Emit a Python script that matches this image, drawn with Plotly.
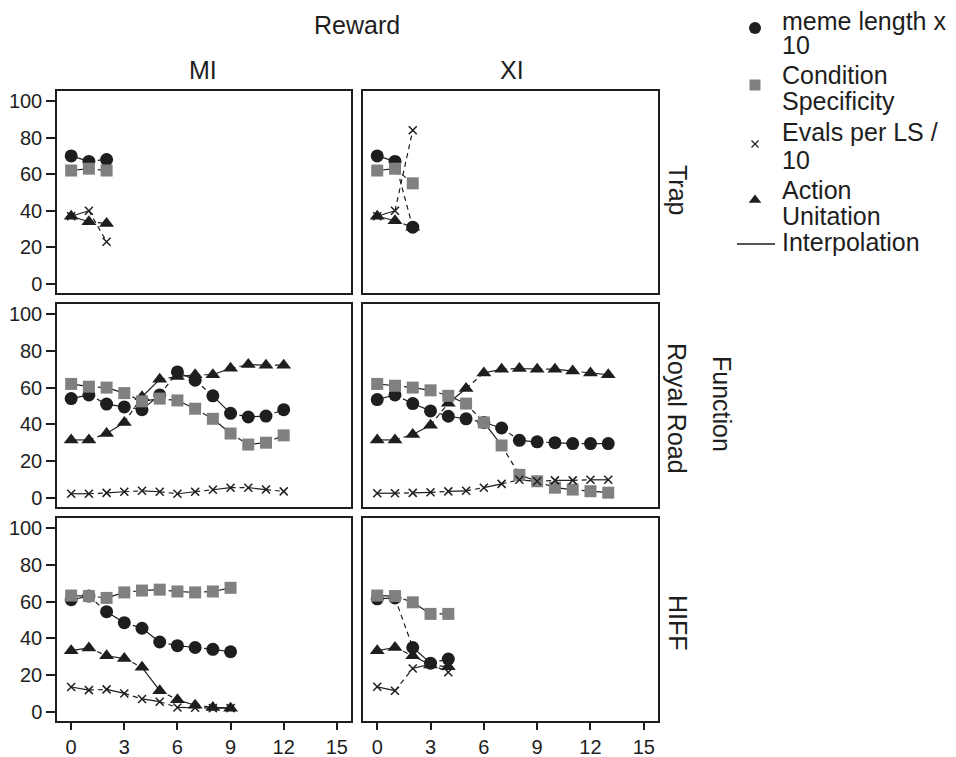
import plotly.graph_objects as go

# ---------------- data ----------------
gens_trap = [0, 1, 2]
gens_rr_ml = list(range(13))
gens_rr_xl = list(range(14))
gens_hiff_ml = list(range(10))
gens_hiff_xl = list(range(5))

# Trap / MI
trap_ml_meme = [70, 67, 68]
trap_ml_cond = [62, 63, 62]
trap_ml_evals = [37, 40, 23]
trap_ml_action = [37, 34, 33]
# Trap / XI
trap_xl_meme = [70, 67, 31]
trap_xl_cond = [62, 63, 55]
trap_xl_evals = [37, 40, 84]
trap_xl_action = [37, 34.5, 31]

# Royal Road / MI
rr_ml_meme = [54, 56, 51, 49.5, 48, 56, 68.5, 64, 55.5, 46, 44, 44.5, 48]
rr_ml_cond = [62, 60.5, 60, 57, 52.5, 54, 53, 48.5, 43, 35, 29, 30, 34]
rr_ml_evals = [2.2, 2.2, 2.7, 3.3, 3.8, 3.3, 2.2, 3.3, 4.4, 5.5, 5.5, 4.5, 3.5]
rr_ml_action = [31.5, 31.5, 35, 41, 55, 64.5, 66, 67, 67, 70.5, 72.5, 72.2, 72.2]
# Royal Road / XI
rr_xl_meme = [53.5, 56, 51.3, 47.3, 44.4, 43, 41, 38, 31.3, 30.5, 30, 29.5, 29.5, 29.5]
rr_xl_cond = [62, 61, 60, 58.5, 55.5, 51.3, 41, 28.5, 12.5, 9, 5.5, 4.5, 3.6, 2.8]
rr_xl_evals = [2.5, 2.5, 2.7, 3, 3.5, 3.8, 5.5, 7.6, 9.8, 9, 9.5, 9.5, 9.8, 9.8]
rr_xl_action = [31.5, 31.5, 34.5, 39.5, 51.5, 59.5, 68, 70, 70.4, 70, 70, 69, 68, 67]

# HIFF / MI
hiff_ml_meme = [61, 63, 54.5, 48.5, 45.5, 38, 36, 35, 34, 32.7]
hiff_ml_cond = [63.3, 63, 62, 65, 66, 66.5, 65.5, 65, 65.5, 67.5]
hiff_ml_evals = [13.5, 11.8, 12.2, 10, 7, 5.5, 2.4, 2.2, 2, 2]
hiff_ml_action = [33.3, 34.8, 30.5, 29, 24.2, 11.5, 6.5, 3.6, 2.4, 2]
# HIFF / XI
hiff_xl_meme = [61.5, 62, 35, 26.5, 28.7]
hiff_xl_cond = [63.3, 63, 59.6, 53.3, 53.3]
hiff_xl_evals = [13.6, 11.5, 23.6, 26, 21.5]
hiff_xl_action = [33.3, 35, 30.5, 25.5, 24.5]

columns = ["MI", "XI"]
rows = ["Trap", "Royal Road", "HIFF"]
legend_lines = [["meme length x", "10"], ["Condition", "Specificity"],
                ["Evals per LS /", "10"], ["Action", "Unitation"]]
interp_label = "Interpolation"
col_title = "Reward"
row_title = "Function"
x_ticks = [0, 3, 6, 9, 12, 15]
y_ticks = [0, 20, 40, 60, 80, 100]

panels = {
    ("Trap", "MI"): (gens_trap, trap_ml_meme, trap_ml_cond, trap_ml_evals, trap_ml_action),
    ("Trap", "XI"): (gens_trap, trap_xl_meme, trap_xl_cond, trap_xl_evals, trap_xl_action),
    ("Royal Road", "MI"): (gens_rr_ml, rr_ml_meme, rr_ml_cond, rr_ml_evals, rr_ml_action),
    ("Royal Road", "XI"): (gens_rr_xl, rr_xl_meme, rr_xl_cond, rr_xl_evals, rr_xl_action),
    ("HIFF", "MI"): (gens_hiff_ml, hiff_ml_meme, hiff_ml_cond, hiff_ml_evals, hiff_ml_action),
    ("HIFF", "XI"): (gens_hiff_xl, hiff_xl_meme, hiff_xl_cond, hiff_xl_evals, hiff_xl_action),
}

# ---------------- styling ----------------
OFF = 8                      # default body margin of the html page
W, H = 956 - OFF, 757 - OFF  # figure ends exactly at the window edge
FONT = "Liberation Sans, Arial, sans-serif"
INK = "#1e1e1e"
GRAY = "#808080"
col_px = {"MI": (57, 351), "XI": (363, 658)}
row_px = {"Trap": (91, 293), "Royal Road": (304, 507), "HIFF": (518, 721)}


def fx(px):
    return (px - OFF) / W


def fy(py):
    return 1 - (py - OFF) / H


marker_styles = {
    0: dict(symbol="circle", color=INK, size=13),
    1: dict(symbol="square", color=GRAY, size=12),
    2: dict(symbol="x-thin", color=INK, size=8, line=dict(width=1.5, color=INK)),
    3: dict(symbol="triangle-up", color=INK, size=13),
}
draw_order = [3, 0, 1, 2]

fig = go.Figure()
layout = {}
idx = 0
for r in rows:
    for c in columns:
        idx += 1
        xa = "x" if idx == 1 else f"x{idx}"
        ya = "y" if idx == 1 else f"y{idx}"
        xk = "xaxis" if idx == 1 else f"xaxis{idx}"
        yk = "yaxis" if idx == 1 else f"yaxis{idx}"
        x0, x1 = col_px[c]
        y0, y1 = row_px[r]
        layout[xk] = dict(
            domain=[fx(x0), fx(x1)], range=[-0.8, 15.8], anchor=ya, automargin=False,
            showgrid=False, zeroline=False, showline=True, mirror=True,
            linecolor=INK, linewidth=1.5,
            ticks="outside" if r == "HIFF" else "", ticklen=7, tickwidth=1.5, tickcolor=INK,
            tickvals=x_ticks, showticklabels=(r == "HIFF"),
            tickfont=dict(family=FONT, size=20, color=INK),
        )
        layout[yk] = dict(
            domain=[fy(y1), fy(y0)], range=[-5, 105.5], anchor=xa, automargin=False,
            showgrid=False, zeroline=False, showline=True, mirror=True,
            linecolor=INK, linewidth=1.5,
            ticks="outside" if c == "MI" else "", ticklen=9, tickwidth=1.5, tickcolor=INK,
            tickvals=y_ticks, showticklabels=(c == "MI"),
            tickfont=dict(family=FONT, size=20, color=INK),
        )
        gens, *vals = panels[(r, c)]
        for si in draw_order:
            v = vals[si]
            # interpolation: alternate solid and dashed segments
            solid_x, solid_y, dash_x, dash_y = [], [], [], []
            for k in range(len(gens) - 1):
                tx, ty = (solid_x, solid_y) if k % 2 == 0 else (dash_x, dash_y)
                tx += [gens[k], gens[k + 1], None]
                ty += [v[k], v[k + 1], None]
            for lx, ly, dash in ((solid_x, solid_y, "solid"), (dash_x, dash_y, "5px,4px")):
                if lx:
                    fig.add_trace(go.Scatter(
                        x=lx, y=ly, mode="lines", xaxis=xa, yaxis=ya,
                        line=dict(color=INK, width=1.2, dash=dash),
                        showlegend=False, hoverinfo="skip"))
        for si in draw_order:
            ms = marker_styles[si]
            fig.add_trace(go.Scatter(
                x=gens, y=vals[si], mode="markers", xaxis=xa, yaxis=ya,
                marker=dict(symbol=ms["symbol"], color=ms["color"], size=ms["size"],
                            line=ms.get("line", dict(width=0))),
                showlegend=False, name=" ".join(legend_lines[si])))

# ---------------- manual legend (pixel overlay axis) ----------------
layout["xaxis7"] = dict(domain=[0, 1], range=[OFF, OFF + W], visible=False, anchor="y7",
                        fixedrange=True, automargin=False)
layout["yaxis7"] = dict(domain=[0, 1], range=[OFF + H, OFF], visible=False, anchor="x7",
                        fixedrange=True, automargin=False)
leg_sym_x = 755
leg_sym_y = [28, 85, 144, 200]
leg_sym_size = [12, 11, 7, 11]
for si in range(4):
    ms = marker_styles[si]
    fig.add_trace(go.Scatter(
        x=[leg_sym_x], y=[leg_sym_y[si]], mode="markers", xaxis="x7", yaxis="y7",
        marker=dict(symbol=ms["symbol"], color=ms["color"], size=leg_sym_size[si],
                    line=dict(width=1.2, color=INK) if si == 2 else dict(width=0)),
        showlegend=False, hoverinfo="skip", cliponaxis=False))
fig.add_trace(go.Scatter(x=[737, 775], y=[244, 244], mode="lines", xaxis="x7", yaxis="y7",
                         line=dict(color=INK, width=1.3), showlegend=False, hoverinfo="skip"))

ann = []


def add_text(text, px, py, size=25, angle=0, xanchor="center"):
    ann.append(dict(text=text, x=fx(px), y=fy(py), xref="paper", yref="paper",
                    showarrow=False, textangle=angle,
                    font=dict(family=FONT, size=size, color=INK),
                    xanchor=xanchor, yanchor="middle"))


leg_text_y = [[21, 45], [75, 101.3], [131.7, 160], [190, 216]]
for lines, ys in zip(legend_lines, leg_text_y):
    for t, yy in zip(lines, ys):
        add_text(t, 780, yy, size=25, xanchor="left")
add_text(interp_label, 780, 242, size=25, xanchor="left")

add_text(col_title, 357, 25)
add_text(columns[0], 203, 70)
add_text(columns[1], 512, 70)
add_text(rows[0], 678, 190, angle=90)
add_text(rows[1], 677, 408, angle=90)
add_text(rows[2], 678, 623, angle=90)
add_text(row_title, 722, 404, angle=90)

fig.update_layout(
    width=W, height=H, margin=dict(l=0, r=0, t=0, b=0, autoexpand=False),
    paper_bgcolor="white", plot_bgcolor="rgba(0,0,0,0)",
    font=dict(family=FONT, size=20, color=INK),
    annotations=ann,
    showlegend=False,
    **layout,
)

fig.write_html("out.html")
